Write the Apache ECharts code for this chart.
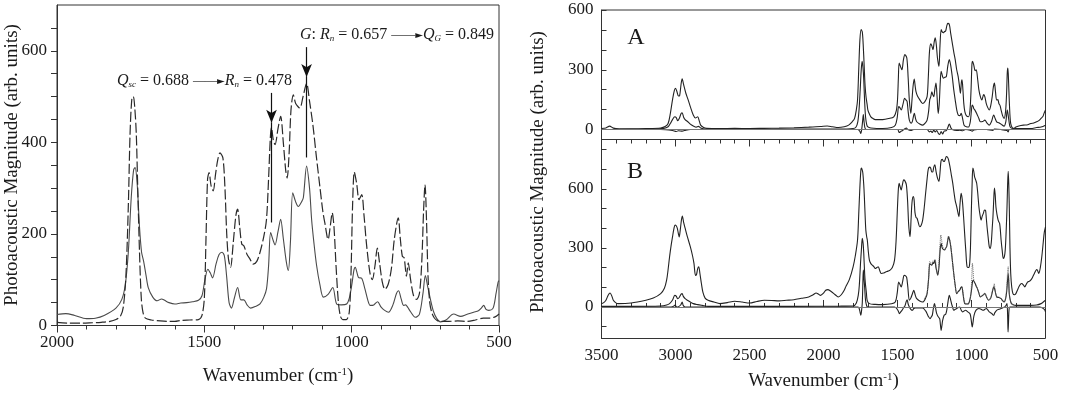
<!DOCTYPE html>
<html>
<head>
<meta charset="utf-8">
<script src="https://cdn.jsdelivr.net/npm/echarts@6/dist/echarts.min.js"></script>
<style>
  html, body { margin: 0; padding: 0; background: #fff; }
  #chart { width: 1067px; height: 400px; }
</style>
</head>
<body>
<div id="chart"></div>
<script>
// left panel: two spectra, [wavenumber, magnitude]
const leftDashed = [[2000,7],[1960,5],[1920,5],[1880,6],[1850,7],[1820,9],[1800,13],[1785,20],[1775,40],[1766,110],[1758,260],[1752,420],[1746,495],[1741,500],[1736,475],[1731,420],[1726,300],[1720,160],[1714,60],[1708,28],[1700,16],[1680,12],[1650,10],[1620,9],[1600,9],[1580,11],[1550,12],[1520,13],[1508,22],[1500,60],[1494,200],[1489,320],[1484,334],[1477,305],[1470,294],[1462,330],[1455,360],[1447,377],[1437,366],[1430,300],[1424,200],[1418,145],[1411,127],[1402,180],[1393,240],[1387,254],[1380,215],[1373,178],[1366,174],[1355,155],[1345,145],[1334,134],[1322,140],[1311,160],[1298,195],[1289,232],[1282,320],[1276,410],[1272,432],[1266,405],[1260,395],[1250,430],[1241,457],[1232,400],[1224,340],[1219,322],[1212,380],[1206,470],[1198,504],[1190,485],[1176,475],[1165,500],[1153,529],[1143,490],[1131,435],[1120,370],[1108,304],[1098,250],[1091,224],[1080,188],[1072,220],[1066,246],[1060,215],[1053,130],[1045,50],[1038,20],[1030,13],[1018,13],[1008,30],[1002,120],[997,260],[991,335],[983,310],[975,275],[966,286],[958,240],[950,180],[938,115],[930,100],[921,130],[913,169],[905,135],[896,95],[887,79],[876,90],[865,125],[855,190],[842,235],[835,190],[828,151],[822,148],[814,108],[808,137],[800,100],[790,65],[780,57],[770,70],[762,140],[756,250],[751,308],[746,230],[741,110],[735,50],[728,28],[720,17],[710,11],[700,9],[670,9],[640,10],[610,9],[580,12],[553,16],[530,16],[510,20],[500,25]];

const leftSolid = [[2000,24],[1970,26],[1940,22],[1900,15],[1870,16],[1840,22],[1800,38],[1780,57],[1768,90],[1758,160],[1748,280],[1740,340],[1735,345],[1728,310],[1720,215],[1713,160],[1706,140],[1698,110],[1690,82],[1675,62],[1660,54],[1645,58],[1635,55],[1620,50],[1600,47],[1580,49],[1560,50],[1540,52],[1520,55],[1508,65],[1498,100],[1488,123],[1480,115],[1472,104],[1460,135],[1450,155],[1440,160],[1432,152],[1424,105],[1416,50],[1408,38],[1398,60],[1387,83],[1376,56],[1366,56],[1355,45],[1343,38],[1325,42],[1311,47],[1298,62],[1289,80],[1282,130],[1275,203],[1266,185],[1260,176],[1250,205],[1241,232],[1232,190],[1222,140],[1215,120],[1208,180],[1200,290],[1190,270],[1181,260],[1170,270],[1164,279],[1153,348],[1143,300],[1136,232],[1128,180],[1119,131],[1108,90],[1096,62],[1080,68],[1064,83],[1051,47],[1035,45],[1017,47],[1008,60],[1000,87],[992,122],[988,127],[977,105],[966,103],[955,80],[945,55],[937,44],[925,45],[912,52],[900,40],[888,33],[875,29],[860,45],[848,70],[841,76],[832,58],[824,44],[817,45],[810,40],[800,30],[784,18],[770,25],[758,70],[750,109],[742,85],[733,58],[722,30],[711,15],[699,8],[680,12],[654,25],[630,20],[610,24],[586,29],[570,32],[560,38],[552,44],[544,35],[535,33],[520,38],[510,70],[503,95],[500,98]];

// arrows on the left panel
const arrowWn = [1272, 1153];
const arrowTop = [508, 608];
const arrowTip = [443, 543];
const arrowEnd = [225, 367];

// right panel A
const aTop = [[3500,5],[3470,8],[3445,17],[3420,7],[3380,4],[3300,4],[3200,5],[3100,8],[3070,15],[3050,30],[3035,80],[3020,150],[3008,195],[3000,207],[2990,190],[2980,168],[2972,170],[2962,230],[2955,255],[2945,225],[2930,182],[2915,150],[2900,115],[2880,73],[2865,58],[2850,64],[2840,45],[2830,22],[2810,10],[2790,6],[2700,5],[2600,6],[2500,5],[2400,6],[2300,7],[2200,9],[2100,12],[2020,15],[1975,18],[1940,14],[1900,10],[1860,14],[1830,22],[1805,40],[1790,56],[1778,100],[1770,148],[1762,300],[1754,450],[1746,502],[1738,490],[1732,430],[1725,317],[1719,220],[1712,160],[1705,125],[1700,98],[1690,78],[1680,64],[1665,55],[1650,50],[1600,50],[1560,55],[1525,64],[1508,95],[1500,148],[1494,260],[1489,334],[1480,317],[1470,300],[1460,350],[1450,376],[1437,359],[1428,260],[1420,148],[1410,81],[1402,150],[1395,216],[1387,253],[1380,215],[1375,190],[1365,168],[1350,150],[1330,131],[1315,140],[1300,165],[1292,260],[1284,390],[1275,430],[1268,420],[1260,401],[1252,440],[1245,460],[1237,420],[1230,359],[1220,317],[1213,420],[1205,502],[1198,490],[1190,486],[1182,492],[1175,494],[1167,520],[1160,533],[1150,528],[1140,480],[1130,435],[1120,390],[1110,351],[1100,300],[1090,266],[1080,210],[1075,182],[1068,240],[1064,250],[1058,200],[1052,130],[1045,90],[1035,70],[1020,64],[1010,100],[1003,200],[997,330],[993,342],[985,325],[975,295],[968,300],[958,250],[950,199],[940,165],[930,148],[918,175],[910,165],[900,130],[890,110],[880,98],[870,120],[860,165],[852,215],[845,233],[838,190],[830,148],[822,150],[815,131],[807,120],[800,98],[790,70],[780,56],[770,90],[763,180],[758,290],[754,309],[749,230],[745,148],[740,70],[735,30],[725,10],[715,6],[700,13],[680,18],[650,22],[620,24],[600,30],[580,33],[560,39],[545,45],[530,56],[518,65],[510,81],[500,98]];

const aMid = [[3500,0],[3300,1],[3150,2],[3080,6],[3050,14],[3035,30],[3020,50],[3005,64],[2995,60],[2985,44],[2975,55],[2962,80],[2955,84],[2945,62],[2935,50],[2915,38],[2900,27],[2880,18],[2860,12],[2845,16],[2830,8],[2800,2],[2600,1],[2200,2],[1900,2],[1800,5],[1780,13],[1768,40],[1760,98],[1752,200],[1745,300],[1739,342],[1733,310],[1728,250],[1722,140],[1716,64],[1708,25],[1700,13],[1680,8],[1600,5],[1540,10],[1515,22],[1502,60],[1492,115],[1484,110],[1475,98],[1462,130],[1452,157],[1442,148],[1435,140],[1428,90],[1420,47],[1408,32],[1400,40],[1386,81],[1378,55],[1370,39],[1350,28],[1330,22],[1310,35],[1300,47],[1290,90],[1282,150],[1275,165],[1268,190],[1262,175],[1255,165],[1248,200],[1240,233],[1233,170],[1225,81],[1218,130],[1211,240],[1205,292],[1195,265],[1190,258],[1180,262],[1170,266],[1160,320],[1150,351],[1140,320],[1130,266],[1120,200],[1110,148],[1100,100],[1090,73],[1078,70],[1070,81],[1060,55],[1050,22],[1035,14],[1020,13],[1008,40],[1000,100],[995,123],[988,115],[985,106],[975,95],[965,81],[950,55],[940,39],[925,40],[910,47],[895,32],[880,22],[865,40],[850,73],[840,55],[830,39],[815,34],[800,27],[780,17],[768,40],[758,98],[750,60],[742,20],[735,10],[720,5],[650,5],[600,5],[560,10],[530,13],[500,22]];

const aDiff = [[3500,0],[3100,0],[3020,-5],[2995,-10],[2980,-6],[2955,-8],[2930,-3],[2900,0],[2500,0],[2000,0],[1770,0],[1755,-8],[1748,-20],[1742,0],[1736,40],[1731,75],[1726,40],[1720,8],[1710,0],[1500,0],[1488,-15],[1478,-10],[1465,-5],[1452,3],[1440,8],[1430,0],[1410,-5],[1390,0],[1300,0],[1285,-12],[1275,-8],[1265,-15],[1255,-3],[1245,-12],[1235,-5],[1225,-18],[1215,-25],[1205,-10],[1195,-22],[1185,-8],[1170,-5],[1160,10],[1150,28],[1140,10],[1130,0],[1100,-5],[1080,-3],[1060,-6],[1040,0],[1010,-3],[995,-8],[985,-2],[960,0],[900,0],[855,-4],[845,2],[800,0],[760,-5],[752,-12],[745,0],[700,0],[500,0]];

// right panel B
const bTop = [[3500,17],[3485,22],[3470,34],[3455,60],[3442,71],[3430,55],[3420,34],[3405,22],[3390,17],[3300,20],[3200,34],[3150,45],[3100,68],[3075,95],[3060,136],[3050,190],[3040,255],[3030,310],[3020,357],[3010,400],[3003,416],[2995,412],[2988,400],[2980,370],[2975,355],[2968,390],[2960,441],[2954,462],[2945,430],[2935,400],[2920,357],[2900,306],[2885,260],[2875,220],[2865,160],[2858,165],[2850,195],[2843,204],[2835,170],[2825,119],[2815,75],[2800,45],[2780,34],[2740,25],[2700,17],[2650,22],[2600,29],[2550,25],[2500,20],[2450,28],[2400,34],[2350,33],[2300,31],[2250,34],[2200,37],[2150,44],[2100,51],[2070,62],[2050,71],[2035,66],[2020,59],[2000,70],[1985,85],[1970,88],[1955,82],[1930,68],[1910,55],[1900,51],[1880,62],[1860,85],[1850,102],[1825,140],[1800,204],[1785,260],[1770,340],[1762,470],[1755,594],[1748,690],[1744,705],[1738,695],[1734,679],[1728,620],[1724,560],[1718,450],[1714,390],[1708,355],[1704,340],[1697,280],[1690,238],[1680,220],[1670,212],[1660,205],[1650,195],[1640,200],[1630,204],[1620,185],[1610,170],[1595,172],[1580,178],[1565,182],[1550,187],[1535,200],[1520,238],[1510,330],[1500,509],[1494,600],[1489,628],[1482,610],[1475,594],[1467,620],[1458,645],[1450,640],[1440,620],[1432,540],[1425,424],[1420,380],[1415,357],[1408,450],[1402,530],[1394,560],[1388,545],[1382,480],[1375,455],[1368,450],[1360,430],[1350,407],[1340,415],[1330,441],[1320,500],[1310,577],[1300,650],[1292,700],[1283,710],[1276,705],[1268,685],[1262,685],[1255,710],[1248,722],[1240,690],[1235,671],[1228,650],[1220,637],[1213,680],[1206,740],[1198,750],[1190,740],[1184,738],[1177,750],[1170,764],[1162,760],[1155,747],[1145,710],[1135,665],[1127,630],[1118,580],[1110,540],[1100,509],[1092,480],[1085,458],[1078,520],[1070,577],[1065,560],[1060,526],[1052,440],[1045,357],[1038,280],[1030,204],[1020,200],[1013,215],[1007,300],[1002,460],[996,620],[991,705],[985,690],[979,660],[972,645],[965,628],[958,580],[950,509],[943,470],[935,441],[928,460],[920,475],[912,492],[905,490],[900,450],[895,407],[887,350],[880,306],[873,297],[866,330],[860,400],[855,458],[850,540],[845,603],[840,570],[835,509],[828,470],[820,441],[815,432],[810,424],[805,390],[800,340],[793,290],[785,246],[778,255],[772,290],[766,380],[760,509],[756,620],[752,688],[748,620],[744,480],[740,300],[735,170],[728,100],[720,68],[710,62],[700,68],[690,85],[680,102],[670,115],[660,119],[650,112],[640,102],[630,115],[620,127],[610,130],[600,136],[588,150],[575,170],[565,185],[558,190],[550,178],[545,170],[535,200],[525,255],[515,330],[508,380],[500,407]];

const bMid = [[3500,3],[3300,3],[3100,5],[3060,10],[3040,17],[3020,35],[3005,59],[2995,55],[2985,42],[2975,48],[2962,65],[2955,68],[2948,55],[2935,42],[2920,34],[2900,25],[2880,17],[2850,12],[2820,8],[2780,3],[2500,3],[2200,3],[1900,4],[1800,5],[1778,20],[1765,60],[1758,110],[1750,220],[1744,289],[1738,348],[1732,320],[1728,272],[1722,170],[1717,119],[1710,70],[1705,34],[1690,17],[1650,13],[1600,12],[1540,16],[1515,25],[1502,70],[1492,127],[1484,115],[1475,102],[1465,130],[1455,161],[1445,158],[1438,150],[1430,100],[1420,34],[1410,45],[1398,70],[1390,85],[1380,60],[1370,42],[1350,30],[1330,25],[1310,45],[1300,68],[1290,140],[1282,221],[1275,215],[1268,212],[1260,225],[1255,221],[1248,238],[1240,200],[1233,175],[1228,161],[1220,200],[1212,290],[1205,323],[1198,300],[1190,292],[1182,289],[1175,298],[1168,306],[1160,340],[1155,357],[1148,340],[1140,306],[1130,240],[1120,170],[1110,110],[1100,68],[1090,78],[1080,85],[1072,98],[1065,102],[1058,70],[1045,17],[1030,15],[1020,17],[1010,40],[1000,85],[993,130],[988,136],[980,125],[975,119],[968,105],[960,93],[950,70],[940,51],[925,58],[910,68],[898,50],[885,34],[870,45],[858,80],[850,102],[843,90],[830,51],[815,48],[800,42],[790,32],[780,25],[770,40],[762,80],[757,130],[752,170],[748,120],[745,68],[738,35],[730,17],[715,10],[700,8],[600,8],[560,10],[530,17],[515,25],[500,34]];

const bDotted = [[1320,40],[1300,72],[1290,150],[1282,232],[1275,225],[1268,215],[1260,235],[1252,228],[1245,240],[1238,200],[1230,165],[1222,205],[1214,300],[1207,365],[1200,330],[1192,300],[1185,292],[1177,295],[1170,300],[1162,335],[1156,360],[1148,345],[1140,310],[1130,240],[1120,170],[1110,110],[1100,70],[1090,80],[1080,88],[1070,100],[1062,95],[1055,60],[1045,20],[1030,16],[1015,20],[1005,60],[998,150],[994,222],[990,190],[985,140],[978,125],[970,110],[960,95],[950,72],[940,52],[925,58],[910,70],[898,52],[885,36],[870,48],[858,85],[850,100],[846,118],[842,95],[830,52],[815,50],[800,44],[790,34],[780,27],[770,45],[762,100],[756,180],[752,205],[748,150],[744,70],[738,35],[730,18],[720,10]];

const bDiff = [[3500,0],[3100,0],[3030,0],[3010,5],[3003,10],[2995,2],[2985,0],[2965,10],[2955,25],[2948,8],[2935,0],[2900,0],[2500,0],[2000,0],[1770,0],[1760,-5],[1752,-30],[1748,-42],[1743,-20],[1738,20],[1734,120],[1731,187],[1727,150],[1722,100],[1716,34],[1708,5],[1700,0],[1520,0],[1505,-8],[1495,-20],[1487,-34],[1478,-25],[1470,-17],[1460,-5],[1450,5],[1440,30],[1435,37],[1428,15],[1420,0],[1410,-12],[1400,-17],[1390,-8],[1380,-5],[1330,-5],[1310,-20],[1300,-34],[1290,-50],[1280,-59],[1270,-48],[1265,-42],[1258,-10],[1250,17],[1243,-5],[1235,-34],[1225,-50],[1215,-59],[1210,-90],[1205,-119],[1200,-95],[1195,-68],[1185,-42],[1175,-38],[1168,-20],[1160,20],[1150,59],[1142,40],[1135,17],[1128,0],[1120,-17],[1110,-12],[1100,-8],[1090,-3],[1080,0],[1070,-15],[1060,-25],[1050,-20],[1040,-17],[1025,-25],[1010,-34],[1003,-60],[998,-90],[995,-102],[990,-80],[985,-51],[978,-30],[970,-17],[960,-10],[950,-8],[935,-12],[920,-17],[910,-12],[900,-8],[890,-15],[880,-25],[865,-32],[855,-40],[850,-42],[843,-30],[830,-17],[815,-12],[800,-8],[785,-3],[775,0],[765,10],[760,17],[756,-40],[753,-127],[750,-80],[746,-10],[740,0],[700,0],[600,0],[540,0],[520,-5],[505,-15],[500,-25]];

// tick values
const leftYLabels = [0, 200, 400, 600];
const leftYTicks = [0, 50, 100, 150, 200, 250, 300, 350, 400, 450, 500, 550, 600, 650];
const rightYLabels = [0, 300, 600];
const panelATicks = [0, 100, 200, 300, 400, 500, 600];
const panelBTicks = [-100, 0, 100, 200, 300, 400, 500, 600, 700, 800];

document.addEventListener("DOMContentLoaded", function () {
  const serif = "'Liberation Serif', 'Times New Roman', serif";
  const ink = "#1a1a1a";
  let chart = echarts.init(document.getElementById("chart"));
  const plain = (v) => String(v);

  function xAxisFor(grid, max, opts) {
    return Object.assign(
      {
        type: "value",
        gridIndex: grid,
        min: 500,
        max: max,
        interval: 500,
        inverse: true,
        axisLine: { lineStyle: { color: "#333", width: 1 } },
        axisTick: { length: 7, lineStyle: { color: "#333" } },
        minorTick: { show: true, splitNumber: 5, length: 4, lineStyle: { color: "#333" } },
        axisLabel: { color: ink, fontFamily: serif, fontSize: 17, margin: 9, formatter: plain },
        splitLine: { show: false },
      },
      opts
    );
  }

  function line(name, data, xi, yi, style) {
    return {
      name: name,
      type: "line",
      xAxisIndex: xi,
      yAxisIndex: yi,
      data: data,
      showSymbol: false,
      smooth: 0.3,
      silent: true,
      lineStyle: Object.assign({ color: "#222", width: 1.1 }, style),
    };
  }

  let leftMain = line("left dashed", leftDashed, 0, 0, { color: "#2a2a2a", width: 1.2, type: [10, 3] });
  leftMain.markLine = {
    silent: true,
    symbol: ["none", "arrow"],
    symbolSize: [8, 13],
    label: { show: false },
    lineStyle: { color: "#111", width: 1.2, type: "solid" },
    data: arrowWn
      .map((w, i) => [{ coord: [w, arrowTop[i]] }, { coord: [w, arrowTip[i]] }])
      .concat(
        arrowWn.map((w, i) => [
          { coord: [w, arrowTip[i]], symbol: "none" },
          { coord: [w, arrowEnd[i]], symbol: "none" },
        ])
      ),
  };

  function zeroLine() {
    return {
      silent: true,
      symbol: ["none", "none"],
      label: { show: false },
      lineStyle: { color: "#777", width: 1, type: "solid" },
      data: [{ yAxis: 0 }],
    };
  }
  let aZero = line("A diff", aDiff, 1, 2, {});
  aZero.markLine = zeroLine();
  let bZero = line("B diff", bDiff, 2, 3, {});
  bZero.markLine = zeroLine();

  const annotRich = {
    i: { fontStyle: "italic", fontSize: 16, fontFamily: serif, fill: ink },
    sub: { fontStyle: "italic", fontSize: 9, fontFamily: serif, verticalAlign: "bottom", fill: ink },
    arr: { fontSize: 12, fontFamily: serif, fill: ink },
    head: { fontSize: 10, fontFamily: "'DejaVu Sans'", fill: ink },
  };

  let option = {
    animation: false,
    backgroundColor: "#fff",
    grid: [
      { left: 57, right: 568, top: 5, bottom: 74.5, show: true, borderColor: "#333", borderWidth: 1 },
      { left: 601.5, right: 21.5, top: 10, height: 129.5, show: true, borderColor: "#333", borderWidth: 1 },
      { left: 601.5, right: 21.5, top: 139.5, height: 199, show: true, borderColor: "#333", borderWidth: 1 },
    ],
    xAxis: [
      xAxisFor(0, 2000, { axisTick: { inside: false, length: 7, lineStyle: { color: "#333" } } }),
      xAxisFor(1, 3500, { axisTick: { show: false }, minorTick: { show: false }, axisLabel: { show: false } }),
      xAxisFor(2, 3500, { axisTick: { inside: true, length: 7, lineStyle: { color: "#333" } } }),
      xAxisFor(2, 3500, {
        position: "top",
        axisTick: { inside: true, length: 7, lineStyle: { color: "#333" } },
        axisLabel: { show: false },
      }),
    ],
    yAxis: [
      {
        type: "value",
        gridIndex: 0,
        min: 0,
        max: 700,
        axisLine: { show: true, lineStyle: { color: "#333" } },
        axisTick: { show: true, inside: false, length: 6, customValues: leftYTicks, lineStyle: { color: "#333" } },
        axisLabel: { customValues: leftYLabels, color: ink, fontFamily: serif, fontSize: 17, margin: 10 },
        splitLine: { show: false },
      },
      {
        type: "value",
        gridIndex: 1,
        min: -50,
        max: 600,
        axisLine: { show: true, lineStyle: { color: "#333" } },
        axisTick: { show: true, inside: true, length: 5, customValues: panelATicks, lineStyle: { color: "#333" } },
        axisLabel: { customValues: rightYLabels, color: ink, fontFamily: serif, fontSize: 17, margin: 8 },
        splitLine: { show: false },
      },
      {
        type: "value",
        gridIndex: 2,
        min: -160,
        max: 850,
        axisLine: { show: true, lineStyle: { color: "#333" } },
        axisTick: { show: true, inside: true, length: 5, customValues: panelBTicks, lineStyle: { color: "#333" } },
        axisLabel: { customValues: rightYLabels, color: ink, fontFamily: serif, fontSize: 17, margin: 8 },
        splitLine: { show: false },
      },
    ],
    graphic: [
      {
        type: "text",
        x: 12,
        y: 165,
        rotation: Math.PI / 2,
        style: {
          text: "Photoacoustic Magnitude (arb. units)",
          font: "19px " + serif,
          fill: ink,
          align: "center",
          verticalAlign: "middle",
        },
      },
      {
        type: "text",
        x: 538,
        y: 172,
        rotation: Math.PI / 2,
        style: {
          text: "Photoacoustic Magnitude (arb. units)",
          font: "19px " + serif,
          fill: ink,
          align: "center",
          verticalAlign: "middle",
        },
      },
      {
        type: "text",
        x: 278,
        y: 376,
        style: {
          text: "Wavenumber (cm{sup|-1})",
          font: "19px " + serif,
          fill: ink,
          align: "center",
          verticalAlign: "middle",
          rich: { sup: { fontSize: 11, fontFamily: serif, verticalAlign: "top", fill: ink } },
        },
      },
      {
        type: "text",
        x: 823.5,
        y: 381,
        style: {
          text: "Wavenumber (cm{sup|-1})",
          font: "19px " + serif,
          fill: ink,
          align: "center",
          verticalAlign: "middle",
          rich: { sup: { fontSize: 11, fontFamily: serif, verticalAlign: "top", fill: ink } },
        },
      },
      {
        type: "text",
        x: 636,
        y: 38,
        style: { text: "A", font: "24px " + serif, fill: ink, align: "center", verticalAlign: "middle" },
      },
      {
        type: "text",
        x: 635,
        y: 172,
        style: { text: "B", font: "24px " + serif, fill: ink, align: "center", verticalAlign: "middle" },
      },
      {
        type: "text",
        x: 117,
        y: 81,
        style: {
          text: "{i|Q}{sub|sc} = 0.688 {arr|——}{head|►}{i|R}{sub|n} = 0.478",
          font: "16px " + serif,
          fill: ink,
          align: "left",
          verticalAlign: "middle",
          rich: annotRich,
        },
      },
      {
        type: "text",
        x: 300,
        y: 35,
        style: {
          text: "{i|G}: {i|R}{sub|n} = 0.657 {arr|——}{head|►}{i|Q}{sub|G} = 0.849",
          font: "16px " + serif,
          fill: ink,
          align: "left",
          verticalAlign: "middle",
          rich: annotRich,
        },
      },
    ],
    series: [
      line("left solid", leftSolid, 0, 0, { color: "#4a4a4a", width: 1.1 }),
      leftMain,
      line("A top", aTop, 1, 1, {}),
      line("A mid", aMid, 1, 1, {}),
      aZero,
      line("B top", bTop, 2, 2, {}),
      line("B mid", bMid, 2, 2, {}),
      line("B dotted", bDotted, 2, 2, { color: "#666", width: 1, type: "dotted" }),
      bZero,
    ],
  };
  aZero.yAxisIndex = 1;
  bZero.yAxisIndex = 2;
  option && chart.setOption(option);
});
</script>
</body>
</html>
